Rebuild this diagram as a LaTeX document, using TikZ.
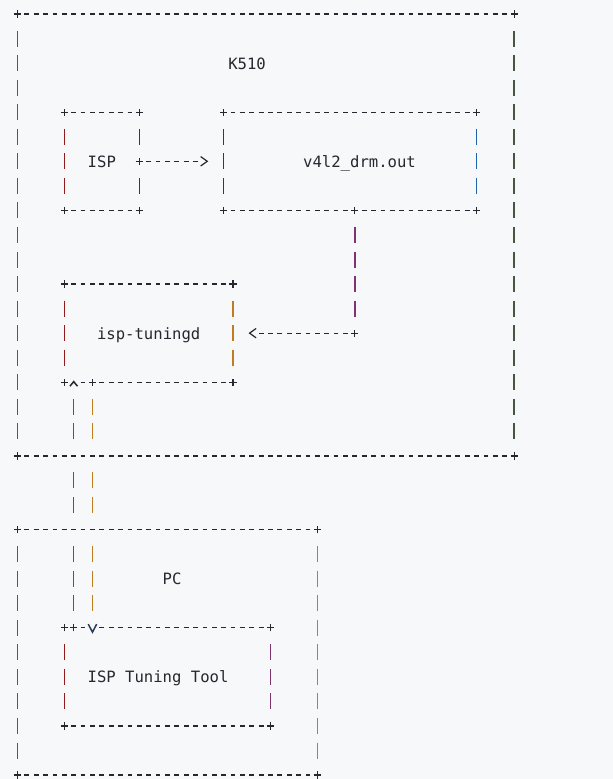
\documentclass[tikz,border=0pt]{standalone}
\usepackage{fontspec}
\setmonofont{DejaVu Sans Mono}
\usetikzlibrary{arrows.meta,fit,calc}
\definecolor{bg}{HTML}{F6F8FA}
\definecolor{ink}{HTML}{24292F}
\definecolor{cblue}{HTML}{1F62B0}
\definecolor{cred}{HTML}{931A1A}
\definecolor{corange}{HTML}{C07C1E}
\definecolor{cpurple}{HTML}{803370}
\definecolor{cnavy}{HTML}{2B3A56}
\definecolor{colive}{HTML}{46563F}
\newcommand\asciiplus[1]{\draw[plusmark] ([xshift=-3.6pt]#1) -- ([xshift=3.6pt]#1) ([yshift=-3.6pt]#1) -- ([yshift=3.6pt]#1);}
\newcommand\asciiborder[5]{%
  \draw[hd] (#1.north west) -- (#1.north east);
  \draw[hd,#5] (#1.south west) -- (#1.south east);
  \draw[vd,draw=#2] (#1.north west) -- (#1.south west);
  \draw[vd,draw=#3,#4] (#1.north east) -- (#1.south east);
  \asciiplus{#1.north west}\asciiplus{#1.north east}%
  \asciiplus{#1.south west}\asciiplus{#1.south east}}
\begin{document}
\begin{tikzpicture}[x=9.37pt,y=-24.55pt,
  hd/.style={draw=ink,line width=1.2pt,dash pattern=on 4.8pt off 4.57pt,shorten <=6.97pt,shorten >=6.97pt},
  vd/.style={line width=1.5pt,dash pattern=on 16pt off 8.55pt,shorten <=16.55pt,shorten >=16.55pt},
  plusmark/.style={draw=ink,line width=1.2pt},
  abox/.style={rectangle,draw=none,inner sep=0pt,outer sep=0pt},
  lbl/.style={anchor=base,inner sep=0pt,yshift=-6pt,text=ink,font=\ttfamily\fontsize{15.6pt}{18pt}\selectfont},
  hcon/.style={draw=ink,line width=1.2pt,shorten <=6.97pt},
  vcon/.style={line width=1.5pt,shorten <=16.55pt},
  chevron/.style={-{Straight Barb[length=6.6pt,width=9.4pt]}}]
\path[fill=bg,use as bounding box] (-17.5pt,14pt) rectangle (595.5pt,-765pt);
% boxes
\node[abox,fit={(0,0) (53,18)}] (k510) {};
\node[abox,fit={(5,4) (13,8)}] (isp) {};
\node[abox,fit={(22,4) (49,8)}] (v4l2) {};
\node[abox,fit={(5,11) (23,15)}] (tuning) {};
\node[abox,fit={(0,21) (32,31)}] (pc) {};
\node[abox,fit={(5,25) (27,29)}] (tool) {};
% labels
\node[lbl] (k510lbl) at (24.5,2) {K510};
\node[lbl] (isplbl) at (9,6) {ISP};
\node[lbl] (v4l2lbl) at (36.5,6) {v4l2\_drm.out};
\node[lbl] (tuninglbl) at (14,13) {isp-tuningd};
\node[lbl] (pclbl) at (16.5,23) {PC};
\node[lbl] (toollbl) at (15,27) {ISP Tuning Tool};
% borders
\asciiborder{k510}{cblue}{colive}{}{}
\asciiborder{isp}{cred}{cnavy}{dash pattern=on 16pt off 33.1pt on 16pt off 8.55pt}{}
\asciiborder{v4l2}{cnavy}{cblue}{}{}
\asciiborder{tuning}{cred}{corange}{}{shorten <=16.34pt}
\asciiborder{pc}{cblue}{corange}{}{}
\asciiborder{tool}{cred}{cpurple}{}{}
% ISP -> v4l2_drm.out
\draw[hcon,chevron,dash pattern=on 4.8pt off 4.57pt on 4.8pt off 4.57pt on 4.8pt off 4.57pt on 4.8pt off 4.57pt on 4.8pt off 4.57pt on 4.8pt off 40pt,shorten >=15.34pt] (isp.east) -- (v4l2.west);
\asciiplus{isp.east}
% v4l2_drm.out -> isp-tuningd
\coordinate (bend) at (36,13);
\coordinate (vtap) at (v4l2.south -| bend);
\draw[vd,draw=cpurple] (vtap) -- (bend);
\draw[hcon,chevron,dash pattern=on 4.8pt off 4.57pt on 4.8pt off 4.57pt on 4.8pt off 4.57pt on 4.8pt off 4.57pt on 4.8pt off 4.57pt on 4.8pt off 4.57pt on 4.8pt off 4.57pt on 4.8pt off 4.57pt on 4.8pt off 4.57pt on 4.8pt off 40pt,shorten >=15.5pt] (bend) -- (tuning.east);
\asciiplus{vtap}
\asciiplus{bend}
% pipes between isp-tuningd and ISP Tuning Tool
\coordinate (c6) at (6,0);
\coordinate (c8) at (8,0);
\coordinate (toolA) at (tool.north -| c6);
\coordinate (tunA) at (tuning.south -| c6);
\coordinate (toolB) at (tool.north -| c8);
\coordinate (tunB) at (tuning.south -| c8);
\draw[vcon,draw=cblue,dash pattern=on 16pt off 8.55pt on 16pt off 8.55pt on 16pt off 33.1pt on 16pt off 8.55pt on 16pt off 33.1pt on 16pt off 8.55pt on 16pt off 40pt,shorten >=-1.8pt,-{Straight Barb[length=4.6pt,width=7.6pt,color=ink]}] (toolA) -- (tunA);
\fill[bg] ($(toolB)+(-3pt,-1.6pt)$) rectangle ($(toolB)+(3pt,1.6pt)$);
\draw[vcon,draw=corange,dash pattern=on 16pt off 8.55pt on 16pt off 33.1pt on 16pt off 8.55pt on 16pt off 33.1pt on 16pt off 8.55pt on 16pt off 8.55pt on 16pt off 40pt,shorten >=-6pt,-{Straight Barb[length=8pt,width=8.4pt,color=cnavy]}] (tunB) -- (toolB);
\asciiplus{toolA}
\asciiplus{tunB}
\end{tikzpicture}
\end{document}
